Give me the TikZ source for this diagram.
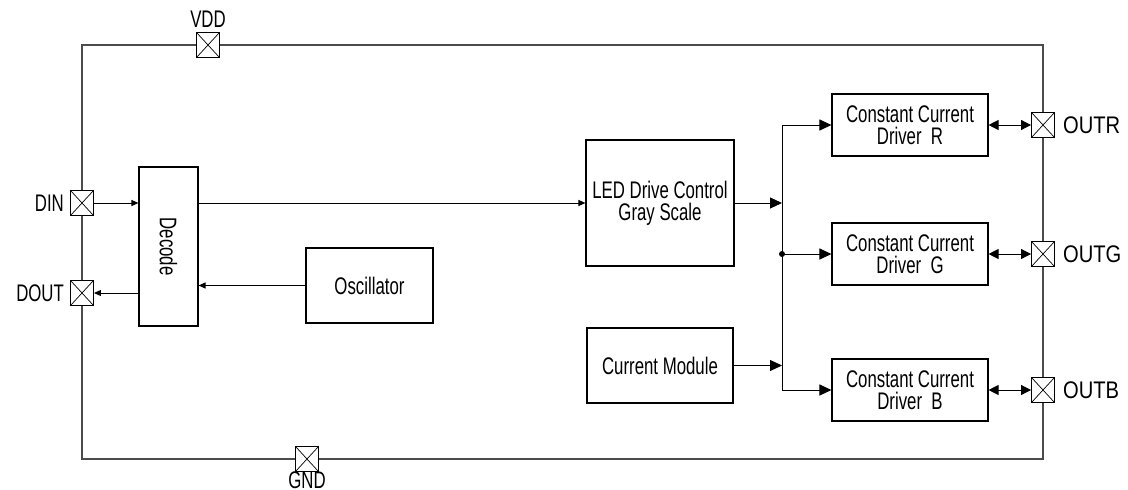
\documentclass[tikz,border=0pt]{standalone}
\usepackage{fontspec}
\setmainfont{Liberation Sans}[FakeStretch=0.7]
\newfontfamily\outfont{Liberation Sans}[FakeStretch=0.84]
\usetikzlibrary{arrows.meta}
\begin{document}
\begin{tikzpicture}[x=1pt,y=-1pt,
  blk/.style={draw=black, line width=1.1pt, fill=white, align=center, inner sep=0pt,
    font=\fontsize{24}{22}\selectfont},
  pin/.style={draw=black, line width=0.9pt, fill=white, minimum width=23pt, minimum height=25pt, inner sep=0pt,
    path picture={\draw[line width=0.7pt] (path picture bounding box.south west) -- (path picture bounding box.north east)
      (path picture bounding box.north west) -- (path picture bounding box.south east);}},
  lbl/.style={inner sep=0pt, font=\fontsize{24}{24}\selectfont},
  olbl/.style={inner sep=0pt, font=\outfont\fontsize{24}{26}\selectfont},
  frame/.style={draw=black!70, line width=1.3pt},
  conn/.style={draw=black, line width=1pt},
  sarr/.style={conn, -{Triangle[length=7pt,width=6pt]}},
  larr/.style={conn, -{Triangle[length=12pt,width=11pt]}},
  darr/.style={conn, {Triangle[length=10pt,width=10pt]}-{Triangle[length=10pt,width=10pt]}}
]
\useasboundingbox (0,0) rectangle (1128,490);

% chip outline
\coordinate (fTL) at (82,45);
\coordinate (fBR) at (1043,459);
\draw[frame] (fTL) rectangle (fBR);

% blocks
\node[blk, minimum width=59pt, minimum height=159pt] (dec) at (168.5,246.5) {};
\node[rotate=-90, inner sep=0pt, font=\fontsize{24}{24}\selectfont] (dect) at (dec.center) {Decode};
\node[blk, minimum width=127pt, minimum height=75pt] (osc) at (369.5,285.5) {Oscillator};
\node[blk, minimum width=148pt, minimum height=126pt] (led) at (660,203) {LED Drive Control\\Gray Scale};
\node[blk, minimum width=146pt, minimum height=75pt] (cur) at (660,365.5) {Current Module};
\node[blk, minimum width=156pt, minimum height=62pt] (drvR) at (910,125) {Constant Current\\Driver~~R};
\node[blk, minimum width=156pt, minimum height=62pt] (drvG) at (910,254) {Constant Current\\Driver~~G};
\node[blk, minimum width=156pt, minimum height=62pt] (drvB) at (910,390) {Constant Current\\Driver~~B};

% pins
\node[pin] (vdd) at (208,45) {};
\node[pin] (gnd) at (307,459) {};
\node[pin] (din) at (82,203) {};
\node[pin] (dout) at (82,293) {};
\node[pin] (outr) at (1043,125) {};
\node[pin] (outg) at (1043,254) {};
\node[pin] (outb) at (1043,390) {};

% pin labels
\node[lbl, anchor=south, yshift=4pt] (vddl) at (vdd.north) {VDD};
\node[lbl, anchor=north, yshift=0.5pt] (gndl) at (gnd.south) {GND};
\node[lbl, anchor=east, xshift=-6pt] (dinl) at (din.west) {DIN};
\node[lbl, anchor=east, xshift=-6pt] (doutl) at (dout.west) {DOUT};
\node[olbl, anchor=west, xshift=8pt] (outrl) at (outr.east) {OUTR};
\node[olbl, anchor=west, xshift=8pt] (outgl) at (outg.east) {OUTG};
\node[olbl, anchor=west, xshift=8pt] (outbl) at (outb.east) {OUTB};

% connections
\draw[sarr] (din.east) -- (din.east -| dec.west);
\draw[sarr] (dout.east -| dec.west) -- (dout.east);
\draw[sarr] (osc.west) -- (osc.west -| dec.east);
\draw[sarr] (led.west -| dec.east) -- (led.west);

\coordinate (bus) at (782,0);
\draw[larr] (led.east) -- (led.east -| bus);
\draw[larr] (cur.east) -- (cur.east -| bus);
\draw[conn] (drvR.west -| bus) -- (drvB.west -| bus);
\draw[larr] (drvR.west -| bus) -- (drvR.west);
\draw[larr] (drvG.west -| bus) -- (drvG.west);
\draw[larr] (drvB.west -| bus) -- (drvB.west);
\fill (drvG.west -| bus) circle (3pt);

\draw[darr] (drvR.east) -- (outr.west);
\draw[darr] (drvG.east) -- (outg.west);
\draw[darr] (drvB.east) -- (outb.west);
\end{tikzpicture}
\end{document}
